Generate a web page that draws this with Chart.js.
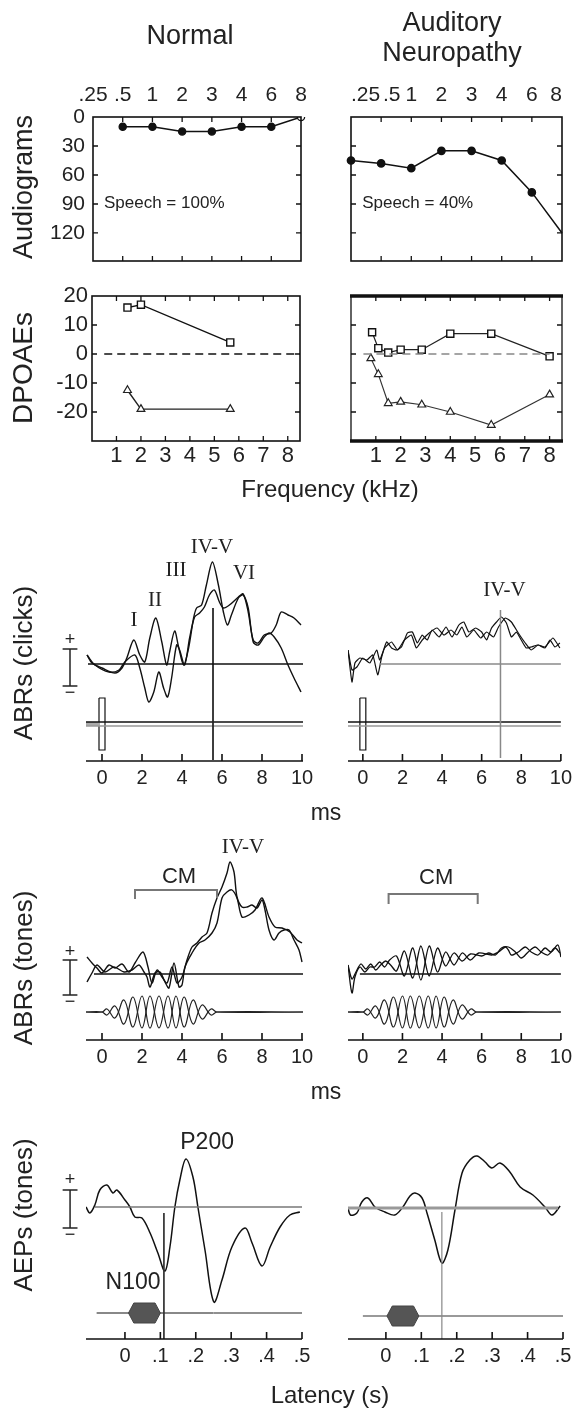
<!DOCTYPE html>
<html>
<head>
<meta charset="utf-8">
<script src="https://cdn.jsdelivr.net/npm/chart.js@4.4.1/dist/chart.umd.min.js"></script>
<style>
html, body { margin: 0; padding: 0; background: #fff; }
#wrap { position: relative; width: 577px; height: 1412px; overflow: hidden; }
#wrap canvas { position: absolute; left: 0; top: 0; }
.lab { position: absolute; z-index: 5; font-family: 'Liberation Sans', Arial, sans-serif; color: #222;
       white-space: nowrap; line-height: 1; transform: translate(-50%, -50%); }
.rot { transform: translate(-50%, -50%) rotate(-90deg); }
</style>
</head>
<body>
<div id="wrap">
  <div class="lab" style="left:190px;top:35px;font-size:27px">Normal</div>
  <div class="lab" style="left:452px;top:22px;font-size:27px">Auditory</div>
  <div class="lab" style="left:452px;top:52px;font-size:27px">Neuropathy</div>
  <div class="lab rot" style="left:23px;top:187px;font-size:27px">Audiograms</div>
  <div class="lab rot" style="left:23px;top:368px;font-size:28px">DPOAEs</div>
  <div class="lab" style="left:330px;top:489px;font-size:24px">Frequency (kHz)</div>
  <div class="lab rot" style="left:23px;top:663px;font-size:26px">ABRs (clicks)</div>
  <div class="lab" style="left:326px;top:812px;font-size:23px">ms</div>
  <div class="lab rot" style="left:23px;top:968px;font-size:26px">ABRs (tones)</div>
  <div class="lab" style="left:326px;top:1091px;font-size:23px">ms</div>
  <div class="lab rot" style="left:23px;top:1215px;font-size:26px">AEPs (tones)</div>
  <div class="lab" style="left:330px;top:1395px;font-size:24px">Latency (s)</div>
</div>
<script>
// ---- audiograms (dB HL, plotted downwards) ----
const audioFreqs = ['.25', '.5', '1', '2', '3', '4', '6', '8'];
const audioNormal = [null, 10, 10, 15, 15, 10, 10, 0];
const audioAN = [45, 48, 53, 35, 35, 45, 78, 120];
const audioTicks = [0, 30, 60, 90, 120];

// ---- DPOAEs (dB) against frequency (kHz) ----
const dpTicksX = [1, 2, 3, 4, 5, 6, 7, 8];
const dpTicksY = [-20, -10, 0, 10, 20];
const dpNormalFreq = [1.45, 2.0, 5.65];
const dpNormalSq = [16, 17, 4];
const dpNormalTri = [-12.5, -19, -19];
const dpANSqFreq = [0.85, 1.1, 1.5, 2.0, 2.85, 4.0, 5.65, 8.0];
const dpANSq = [7.5, 2, 0.5, 1.5, 1.5, 7, 7, -0.8];
const dpANTriFreq = [0.8, 1.1, 1.5, 2.0, 2.85, 4.0, 5.65, 8.0];
const dpANTri = [-1.5, -7, -17, -16.5, -17.5, -20, -24.5, -14];

// ---- ABRs to clicks: [ms, amplitude] ----
const msTicks = [0, 2, 4, 6, 8, 10];
const clickNormalA = [[-0.75,9],[-0.5,1],[0,-4],[0.65,-9],[1.0,-4],[1.24,6],[1.59,24],[1.89,9],[2.14,2],[2.39,26],
  [2.69,46],[2.99,22],[3.23,-1],[3.38,12],[3.63,33],[3.83,17],[4.08,-1],[4.33,16],[4.58,46],[4.73,56],[4.98,59],
  [5.22,79],[5.52,102],[5.82,79],[6.07,52],[6.27,39],[6.47,49],[6.82,66],[7.06,69],[7.31,56],[7.56,22],[7.81,19],
  [8.11,27],[8.36,31],[8.61,27],[8.96,16],[9.3,-1],[9.6,-14],[9.95,-28]];
const clickNormalB = [[-0.75,9],[-0.35,-1],[0.35,-8],[0.85,-6],[1.14,2],[1.64,9],[1.89,-4],[2.14,-24],[2.34,-38],
  [2.59,-28],[2.84,-8],[3.08,-24],[3.28,-33],[3.48,-14],[3.73,19],[3.88,14],[4.13,-1],[4.38,26],[4.63,47],[4.88,51],
  [5.12,57],[5.37,69],[5.62,74],[5.87,62],[6.07,56],[6.37,59],[6.82,67],[7.06,70],[7.31,52],[7.56,24],[7.81,21],
  [8.11,29],[8.46,31],[8.71,39],[8.96,52],[9.3,49],[9.6,46],[9.95,39]];
const clickANA = [[-0.75,14],[-0.55,-18],[-0.4,1],[-0.15,6],[0.2,4],[0.5,9],[0.75,-11],[0.95,7],[1.2,22],[1.45,16],
  [1.7,14],[1.95,17],[2.25,31],[2.5,32],[2.75,21],[3.0,29],[3.25,24],[3.5,34],[3.85,27],[4.2,37],[4.5,27],[4.85,39],
  [5.1,42],[5.35,32],[5.7,36],[6.0,32],[6.25,24],[6.5,36],[6.75,42],[7.0,47],[7.25,41],[7.5,27],[7.75,32],[8.0,24],
  [8.25,16],[8.5,17],[8.85,19],[9.2,16],[9.45,24],[9.7,17],[9.95,21]];
const clickANB = [[-0.75,14],[-0.55,-6],[-0.3,-3],[0,6],[0.35,1],[0.7,14],[0.85,4],[1.1,16],[1.45,22],[1.75,14],
  [2.1,24],[2.45,29],[2.7,16],[3.0,24],[3.35,31],[3.75,36],[4.1,29],[4.45,34],[4.75,29],[5.0,37],[5.25,27],[5.6,34],
  [5.95,26],[6.25,32],[6.6,27],[6.85,37],[7.2,46],[7.5,42],[7.85,31],[8.2,21],[8.5,14],[8.85,19],[9.2,17],[9.6,26],
  [9.95,16]];
const clickPeakNormal = 5.55;
const clickPeakAN = 6.95;

// ---- ABRs to tones: [ms, amplitude] ----
const toneNormalA = [[-0.75,17],[-0.5,11],[-0.25,6],[0,1],[0.35,9],[0.65,6],[1.0,10],[1.35,2],[1.65,11],[2.05,22],
  [2.3,7],[2.5,-9],[2.75,4],[3.0,-3],[3.25,-9],[3.5,7],[3.75,-9],[4.0,-3],[4.25,14],[4.5,27],[4.75,31],[5.0,37],
  [5.25,41],[5.5,61],[5.75,76],[6.0,87],[6.25,101],[6.4,112],[6.6,102],[6.75,77],[7.0,67],[7.25,67],[7.5,69],
  [7.75,66],[8.0,74],[8.15,64],[8.35,44],[8.6,34],[8.85,41],[9.1,44],[9.35,44],[9.6,34],[9.85,24],[10.0,12]];
const toneNormalB = [[-0.75,-8],[-0.5,1],[-0.25,9],[0.15,2],[0.6,7],[1.1,2],[1.5,4],[1.85,9],[2.1,2],[2.25,-3],
  [2.4,-13],[2.65,1],[2.9,2],[3.15,-8],[3.35,-14],[3.6,11],[3.85,-13],[4.0,-11],[4.15,7],[4.5,21],[4.85,31],
  [5.15,34],[5.5,41],[5.75,51],[6.0,76],[6.25,82],[6.5,84],[6.75,76],[7.0,57],[7.35,59],[7.65,64],[8.0,76],
  [8.35,57],[8.65,47],[9.0,46],[9.4,42],[9.75,34],[10.0,31]];
const toneANA = [[-0.75,9],[-0.55,-19],[-0.4,-3],[-0.15,7],[0.1,2],[0.35,7],[0.6,7],[0.85,12],[1.1,7],[1.35,14],
  [1.7,18],[2.1,-2],[2.52,26],[2.93,-6],[3.35,28],[3.77,2],[4.18,22],[4.6,9],[5.02,21],[5.43,14],[5.85,21],
  [6.5,19],[6.85,22],[7.2,27],[7.35,24],[7.5,19],[7.85,22],[8.2,27],[8.5,22],[8.85,19],[9.2,26],[9.5,22],
  [9.85,29],[10.0,17]];
const toneANB = [[-0.75,9],[-0.55,-5],[-0.35,2],[-0.1,10],[0.15,5],[0.4,10],[0.65,4],[0.9,9],[1.15,13],[1.4,9],
  [1.7,3],[2.1,23],[2.52,-4],[2.93,28],[3.35,-2],[3.77,26],[4.18,8],[4.6,21],[5.02,13],[5.43,20],[6.0,18],
  [6.35,21],[6.7,19],[7.0,26],[7.35,27],[7.7,22],[8.0,16],[8.35,22],[8.7,27],[9.0,22],[9.35,19],[9.7,26],[9.95,21]];
// tone-burst stimulus: half-cycle centres (ms) and peak values of the two polarities
const burstT = [0.25, 0.65, 1.1, 1.55, 2.0, 2.4, 2.85, 3.3, 3.7, 4.1, 4.55, 5.0, 5.45];
const burstPos = [3, -6, 12, -15, 16, -16, 16, -16, 16, -15, 12, -7, 3];
const burstNeg = [-3, 6, -12, 15, -16, 16, -16, 16, -16, 15, -12, 7, -3];
const cmNormal = [1.65, 5.75];
const cmAN = [1.3, 5.8];

// ---- cortical AEPs: [s, amplitude] ----
const secTicks = [0, 0.1, 0.2, 0.3, 0.4, 0.5];
const aepNormal = [[-0.11,0],[-0.099,-6],[-0.085,2],[-0.071,17],[-0.051,22],[-0.034,14],[-0.023,17],[0,7],[0.014,0],
  [0.028,-10],[0.048,-11],[0.071,-26],[0.093,-46],[0.113,-64],[0.127,-40],[0.141,0],[0.155,27],[0.172,48],
  [0.192,30],[0.206,0],[0.226,-43],[0.251,-95],[0.274,-73],[0.302,-40],[0.339,-21],[0.359,-36],[0.387,-59],
  [0.41,-40],[0.438,-20],[0.466,-8],[0.494,-5]];
const aepAN = [[-0.107,0],[-0.1,-7],[-0.082,-5],[-0.068,6],[-0.051,10],[-0.031,1],[-0.003,-4],[0.025,-7],[0.048,1],
  [0.068,12],[0.082,15],[0.102,10],[0.116,-5],[0.138,-32],[0.158,-55],[0.175,-42],[0.195,-2],[0.215,35],
  [0.237,48],[0.257,52],[0.28,46],[0.299,40],[0.322,45],[0.35,36],[0.379,21],[0.415,13],[0.449,1],[0.469,-7],
  [0.492,2]];
const n100Normal = 0.11;
const n100AN = 0.158;

// ---------------------------------------------------------------
const W = 577, H = 1412;
const SANS = "'Liberation Sans', Arial, sans-serif";
const SERIF = "'Liberation Serif', 'Times New Roman', serif";
Chart.defaults.font.family = SANS;
Chart.defaults.color = '#222';

// extra drawing per canvas (frames, inner ticks, labels, scale bars)
const deco = {};
Chart.register({
  id: 'decor',
  afterDatasetsDraw(chart) {
    const d = deco[chart.canvas.id];
    if (!d) return;
    const ctx = chart.ctx, a = chart.chartArea, x = chart.scales.x, y = chart.scales.y;
    const P = (p) => [x.getPixelForValue(p[0]), y.getPixelForValue(p[1])];
    ctx.save();
    ctx.strokeStyle = '#111';
    if (d.box) {
      ctx.lineWidth = d.box;
      ctx.strokeRect(a.left, a.top, a.right - a.left, a.bottom - a.top);
    }
    if (d.thickTB) {
      ctx.lineWidth = d.thickTB;
      ctx.beginPath();
      ctx.moveTo(a.left - 1, a.top); ctx.lineTo(a.right + 1, a.top);
      ctx.moveTo(a.left - 1, a.bottom); ctx.lineTo(a.right + 1, a.bottom);
      ctx.stroke();
    }
    if (d.inTicks) {
      ctx.lineWidth = 1.3;
      ctx.beginPath();
      x.ticks.forEach(tk => {
        const px = x.getPixelForValue(tk.value);
        if (px < a.left + 2 || px > a.right - 2) return;
        ctx.moveTo(px, a.bottom); ctx.lineTo(px, a.bottom - 5);
        ctx.moveTo(px, a.top); ctx.lineTo(px, a.top + 5);
      });
      y.ticks.forEach(tk => {
        const py = y.getPixelForValue(tk.value);
        if (py < a.top + 2 || py > a.bottom - 2) return;
        ctx.moveTo(a.left, py); ctx.lineTo(a.left + 5, py);
        ctx.moveTo(a.right, py); ctx.lineTo(a.right - 5, py);
      });
      ctx.stroke();
    }
    if (d.axisLine) {
      ctx.lineWidth = 1.6;
      ctx.beginPath();
      ctx.moveTo(a.left, a.bottom); ctx.lineTo(a.right, a.bottom);
      x.ticks.forEach(tk => {
        const px = x.getPixelForValue(tk.value);
        ctx.moveTo(px, a.bottom); ctx.lineTo(px, a.bottom - 7);
      });
      ctx.stroke();
    }
    (d.polys || []).forEach(pl => {
      ctx.beginPath();
      pl.pts.forEach((p, i) => { const q = P(p); if (i) ctx.lineTo(q[0], q[1]); else ctx.moveTo(q[0], q[1]); });
      if (pl.close) ctx.closePath();
      if (pl.fill) { ctx.fillStyle = pl.fill; ctx.fill(); }
      ctx.lineWidth = pl.lw || 1.4;
      ctx.strokeStyle = pl.color || '#222';
      ctx.stroke();
    });
    (d.texts || []).forEach(t => {
      const q = P([t.x, t.y]);
      ctx.font = t.font;
      ctx.fillStyle = t.color || '#222';
      ctx.textAlign = t.align || 'center';
      ctx.textBaseline = 'middle';
      ctx.fillText(t.s, q[0], q[1]);
    });
    ctx.restore();
  }
});

const pts = arr => arr.map(p => ({ x: p[0], y: p[1] }));
const xy = (xs, ys) => xs.map((v, i) => ({ x: v, y: ys[i] }));
function ln(data, color, width, extra) {
  return Object.assign({ data: data, borderColor: color, borderWidth: width, pointRadius: 0,
    tension: 0, fill: false }, extra || {});
}
function wave(arr, extra) {
  return ln(pts(arr), '#111', 1.4, Object.assign({ tension: 0.3 }, extra || {}));
}
function burst(vals, base, x0, x1) {
  const out = [[x0, base], [0, base]];
  burstT.forEach((t, i) => out.push([t, base + vals[i]]));
  out.push([5.75, base], [x1, base]);
  return ln(pts(out), '#222', 1.2, { tension: 0.4 });
}
function scaleBar(x, top, bottom, half, plusY, minusY, font) {
  return {
    polys: [
      { pts: [[x, top], [x, bottom]], lw: 1.5 },
      { pts: [[x - half, top], [x + half, top]], lw: 1.5 },
      { pts: [[x - half, bottom], [x + half, bottom]], lw: 1.5 }
    ],
    texts: [
      { x: x, y: plusY, s: '+', font: font },
      { x: x, y: minusY, s: '\u2212', font: font }
    ]
  };
}

function panel(id, box, sx, sy, datasets, d, labels) {
  const cv = document.createElement('canvas');
  cv.id = id; cv.width = W; cv.height = H;
  document.getElementById('wrap').appendChild(cv);
  deco[id] = d;
  const top = sx.position === 'top';
  const xH = sx.h || 0, yW = sy.w || 0;
  const setTicks = vals => vals ? (s => { s.ticks = vals.map(v => ({ value: v })); }) : undefined;
  new Chart(cv, {
    type: 'line',
    data: labels ? { labels: labels, datasets: datasets } : { datasets: datasets },
    options: {
      responsive: false, animation: false, devicePixelRatio: 1, events: [],
      layout: { padding: { left: box.l - yW, right: W - box.r,
        top: box.t - (top ? xH : 0), bottom: H - box.b - (top ? 0 : xH) } },
      plugins: { legend: { display: false }, tooltip: { enabled: false } },
      scales: {
        x: {
          type: labels ? 'category' : 'linear',
          position: sx.position || 'bottom',
          min: sx.min, max: sx.max, offset: false,
          grid: { display: false, drawTicks: false },
          border: { display: false },
          ticks: { font: { size: sx.size || 20 }, padding: sx.pad || 5, autoSkip: false,
            maxRotation: 0, minRotation: 0, align: sx.align || 'center', callback: sx.fmt },
          afterBuildTicks: setTicks(sx.ticks),
          afterFit: s => { s.height = xH; }
        },
        y: {
          type: 'linear', reverse: !!sy.reverse,
          min: sy.min, max: sy.max,
          grid: { display: false, drawTicks: false },
          border: { display: false },
          ticks: { display: yW > 0, font: { size: sy.size || 20 }, padding: sy.pad || 6 },
          afterBuildTicks: setTicks(sy.ticks),
          afterFit: s => { s.width = yW; }
        }
      }
    }
  });
}

// ---- row 1: audiograms ----
const audioX = { position: 'top', h: 34, size: 21, pad: 9, fmt: (v, i) => audioFreqs[i] };
panel('audN', { l: 93, t: 117, r: 301, b: 261 }, audioX,
  { w: 50, min: 0, max: 149, reverse: true, ticks: audioTicks, size: 21, pad: 8 },
  [{ data: audioNormal, borderColor: '#111', borderWidth: 1.5, tension: 0, spanGaps: false,
     pointRadius: 3.6, pointBorderColor: '#111', pointBorderWidth: 1.3,
     pointBackgroundColor: ['#111', '#111', '#111', '#111', '#111', '#111', '#111', '#fff'] }],
  { box: 1.6, inTicks: true,
    texts: [{ x: 0.37, y: 89, s: 'Speech = 100%', font: '17px ' + SANS, align: 'left' }] },
  audioFreqs);

// right panel: first label is pushed inside the frame, so give '.5' a little room
panel('audAN', { l: 351, t: 117, r: 562, b: 261 },
  Object.assign({}, audioX, { align: 'inner', fmt: (v, i) => (i === 1 ? '\u2002\u2002' : '') + audioFreqs[i] }),
  { w: 0, min: 0, max: 149, reverse: true, ticks: audioTicks },
  [{ data: audioAN, borderColor: '#111', borderWidth: 1.5, tension: 0,
     pointRadius: [3.6, 3.6, 3.6, 3.6, 3.6, 3.6, 3.6, 0], pointBorderColor: '#111',
     pointBackgroundColor: '#111' }],
  { box: 1.6, inTicks: true,
    texts: [{ x: 0.37, y: 89, s: 'Speech = 40%', font: '17px ' + SANS, align: 'left' }] },
  audioFreqs);

// ---- row 2: DPOAEs ----
const dpX = { h: 30, min: 0, max: 8.5, ticks: dpTicksX, size: 22, pad: 2 };
const sq = { pointStyle: 'rect', pointRadius: 5, pointBackgroundColor: '#fff', pointBorderColor: '#111', pointBorderWidth: 1.4 };
const tri = { pointStyle: 'triangle', pointRadius: 4.5, pointBackgroundColor: '#fff', pointBorderColor: '#222', pointBorderWidth: 1.2 };
panel('dpN', { l: 92, t: 296, r: 300, b: 441 }, dpX,
  { w: 60, min: -30, max: 20, ticks: dpTicksY, size: 22, pad: 4 },
  [ln(pts([[0.5, 0], [8.5, 0]]), '#111', 1.6, { borderDash: [8, 5] }),
   ln(xy(dpNormalFreq, dpNormalSq), '#111', 1.4, sq),
   ln(xy(dpNormalFreq, dpNormalTri), '#222', 1.4, tri)],
  { box: 1.6, inTicks: true });

panel('dpAN', { l: 351, t: 296, r: 562, b: 441 }, dpX,
  { w: 0, min: -30, max: 20, ticks: dpTicksY },
  [ln(pts([[0.5, 0], [8, 0]]), '#888', 1.6, { borderDash: [8, 5] }),
   ln(xy(dpANSqFreq, dpANSq), '#222', 1.2, sq),
   ln(xy(dpANTriFreq, dpANTri), '#333', 1.1, tri)],
  { box: 1.3, thickTB: 3.5, inTicks: true });

// ---- row 3: ABRs to clicks ----
const msX = { h: 30, ticks: msTicks, size: 20, pad: 5 };
const clickRect = pts([[-0.15, -34], [0.15, -34], [0.15, -86], [-0.15, -86], [-0.15, -34]]);
const roman = '21px ' + SERIF;
const sbN = scaleBar(-1.6, 15, -22, 0.37, 24, -29, '18px ' + SANS);
panel('clkN', { l: 86, t: 540, r: 303, b: 761 }, Object.assign({ min: -0.8, max: 10.05 }, msX),
  { w: 0, min: -97, max: 124 },
  [ln(pts([[-0.7, 0], [10.05, 0]]), '#111', 1.3),
   ln(pts([[clickPeakNormal, 56], [clickPeakNormal, -96]]), '#222', 1),
   ln(pts([[-0.8, -58], [10.05, -58]]), '#111', 1.4),
   ln(pts([[-0.8, -62], [10.05, -62]]), '#999', 1.4),
   ln(pts([[-0.8, -60], [-0.1, -60]]), '#aaa', 4),
   ln(clickRect, '#111', 1.2),
   wave(clickNormalA), wave(clickNormalB)],
  { axisLine: true, polys: sbN.polys,
    texts: sbN.texts.concat([
      { x: 1.6, y: 44, s: 'I', font: roman },
      { x: 2.65, y: 64, s: 'II', font: roman },
      { x: 3.7, y: 94, s: 'III', font: roman },
      { x: 5.5, y: 117, s: 'IV-V', font: roman },
      { x: 7.1, y: 91, s: 'VI', font: roman }]) });

panel('clkAN', { l: 348, t: 540, r: 563, b: 761 }, Object.assign({ min: -0.75, max: 10 }, msX),
  { w: 0, min: -97, max: 124 },
  [ln(pts([[0.85, 0], [10, 0]]), '#8a8a8a', 1.5),
   ln(pts([[clickPeakAN, 54], [clickPeakAN, -94]]), '#888', 1.5),
   ln(pts([[-0.75, -58], [10, -58]]), '#111', 1.4),
   ln(pts([[-0.75, -62], [10, -62]]), '#999', 1.4),
   ln(clickRect, '#111', 1.2),
   wave(clickANA, { borderWidth: 1.2, tension: 0.15 }), wave(clickANB, { borderWidth: 1.2, tension: 0.15 })],
  { axisLine: true, texts: [{ x: 7.15, y: 74, s: 'IV-V', font: roman }] });

// ---- row 4: ABRs to tones ----
const sbT = scaleBar(-1.6, 14, -21, 0.37, 22, -28, '18px ' + SANS);
panel('tonN', { l: 86, t: 830, r: 303, b: 1040 }, Object.assign({ min: -0.8, max: 10.05 }, msX),
  { w: 0, min: -66, max: 144 },
  [ln(pts([[-0.4, 0], [10.05, 0]]), '#111', 1.3),
   ln(pts([[cmNormal[0], 75], [cmNormal[0], 84], [cmNormal[1], 84], [cmNormal[1], 76]]), '#777', 2),
   burst(burstPos, -38, -0.8, 10.05), burst(burstNeg, -38, -0.8, 10.05),
   wave(toneNormalA), wave(toneNormalB)],
  { axisLine: true, polys: sbT.polys,
    texts: sbT.texts.concat([
      { x: 3.85, y: 97, s: 'CM', font: '22px ' + SANS },
      { x: 7.05, y: 127, s: 'IV-V', font: roman }]) });

panel('tonAN', { l: 348, t: 830, r: 563, b: 1040 }, Object.assign({ min: -0.75, max: 10 }, msX),
  { w: 0, min: -66, max: 144 },
  [ln(pts([[-0.15, 0], [10, 0]]), '#111', 1.3),
   ln(pts([[cmAN[0], 70], [cmAN[0], 80], [cmAN[1], 80], [cmAN[1], 70]]), '#777', 2),
   burst(burstPos, -38, -0.75, 10), burst(burstNeg, -38, -0.75, 10),
   wave(toneANA, { borderWidth: 1.3, tension: 0.3 }), wave(toneANB, { borderWidth: 1.3, tension: 0.3 })],
  { axisLine: true, texts: [{ x: 3.7, y: 96, s: 'CM', font: '22px ' + SANS }] });

// ---- row 5: cortical AEPs ----
const secX = { h: 30, ticks: secTicks, size: 20, pad: 5,
  fmt: v => v === 0 ? '0' : '.' + Math.round(v * 10) };
const sbA = scaleBar(-0.155, 17, -21, 0.021, 27, -28, '18px ' + SANS);
panel('aepN', { l: 86, t: 1125, r: 302, b: 1339 }, Object.assign({ min: -0.11, max: 0.5 }, secX),
  { w: 0, min: -132, max: 82 },
  [ln(pts([[-0.085, 0], [0.5, 0]]), '#777', 1.6),
   ln(pts([[n100Normal, -6], [n100Normal, -132]]), '#333', 1),
   ln(pts([[-0.08, -106], [0.25, -106]]), '#888', 2),
   ln(pts([[0.25, -106], [0.5, -106]]), '#222', 1.2),
   wave(aepNormal, { borderWidth: 1.5, tension: 0.35 })],
  { axisLine: true,
    polys: sbA.polys.concat([{ pts: [[0.01, -106], [0.025, -96], [0.085, -96], [0.1, -106], [0.085, -116], [0.025, -116]],
      close: true, fill: '#555', color: '#444', lw: 1 }]),
    texts: sbA.texts.concat([
      { x: 0.232, y: 64, s: 'P200', font: '23px ' + SANS },
      { x: 0.023, y: -76, s: 'N100', font: '23px ' + SANS }]) });

panel('aepAN', { l: 348, t: 1125, r: 563, b: 1339 }, Object.assign({ min: -0.107, max: 0.5 }, secX),
  { w: 0, min: -131, max: 83 },
  [ln(pts([[-0.107, 0], [0.486, 0]]), '#999', 3),
   ln(pts([[n100AN, -4], [n100AN, -131]]), '#888', 1.2),
   ln(pts([[-0.065, -108], [0.5, -108]]), '#999', 2),
   wave(aepAN, { borderWidth: 1.5, tension: 0.35 })],
  { axisLine: true,
    polys: [{ pts: [[0.003, -108], [0.018, -98], [0.078, -98], [0.093, -108], [0.078, -118], [0.018, -118]],
      close: true, fill: '#555', color: '#444', lw: 1 }] });
</script>
</body>
</html>
